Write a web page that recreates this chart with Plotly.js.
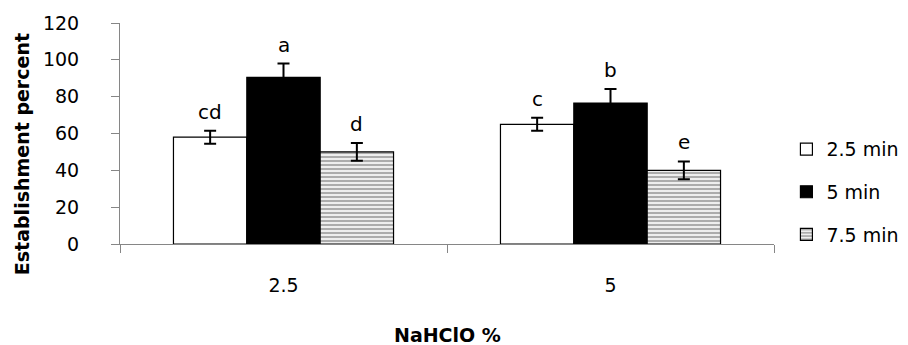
<!DOCTYPE html>
<html>
<head>
<meta charset="utf-8">
<script src="https://cdn.plot.ly/plotly-3.0.1.min.js"></script>
<style>html,body{margin:0;padding:0;background:#fff;}#chart{width:908px;height:345px;}</style>
</head>
<body>
<div id="chart"></div>
<script>
// ---- data ----
var categories = ['2.5', '5'];
var seriesNames = ['2.5 min', '5 min', '7.5 min'];
var values_25min = [58, 65];
var values_5min = [90.5, 76.5];
var values_75min = [50, 40];
var errors_25min = [3.5, 3.5];
var errors_5min = [7.5, 7.7];
var errors_75min = [4.8, 4.8];
var letters_25min = ['cd', 'c'];
var letters_5min = ['a', 'b'];
var letters_75min = ['d', 'e'];
var yTicks = [0, 20, 40, 60, 80, 100, 120];

var FONT = 'DejaVu Sans';
var AXC = '#868686';
var bargap = 0.327;

var vals = [values_25min, values_5min, values_75min];
var errs = [errors_25min, errors_5min, errors_75min];
var letters = [letters_25min, letters_5min, letters_75min];

var styles = [
  {color: '#ffffff', pattern: {shape: ''}},
  {color: '#000000', pattern: {shape: ''}},
  {color: '#ffffff', pattern: {shape: '-', fgcolor: '#5a5a5a', bgcolor: '#ffffff', size: 4, solidity: 0.6, fillmode: 'overlay'}}
];

var traces = seriesNames.map(function (name, j) {
  return {
    type: 'bar',
    name: name,
    x: categories,
    y: vals[j],
    legendgroup: 'g' + j,
    marker: {color: styles[j].color, pattern: styles[j].pattern, line: {color: '#000000', width: 1.2}},
    error_y: {type: 'data', array: errs[j], visible: true, color: '#000000', thickness: 2, width: 6}
  };
});

var barW = (1 - bargap) / seriesNames.length;
var annotations = [];
seriesNames.forEach(function (name, j) {
  categories.forEach(function (c, i) {
    annotations.push({
      xref: 'x', yref: 'y',
      x: i + (j - (seriesNames.length - 1) / 2) * barW,
      y: vals[j][i] + errs[j][i],
      text: letters[j][i],
      showarrow: false,
      yanchor: 'bottom',
      yshift: 5,
      font: {family: FONT, size: 20, color: '#000000'}
    });
  });
});
annotations.push({
  xref: 'paper', yref: 'paper', x: -0.15, y: 0.406,
  text: '<b>Establishment percent</b>', textangle: -90, showarrow: false,
  xanchor: 'center', yanchor: 'middle',
  font: {family: FONT, size: 19, color: '#000000'}
});
annotations.push({
  xref: 'paper', yref: 'paper', x: 0.5, y: -0.41,
  text: '<b>NaHClO %</b>', showarrow: false,
  xanchor: 'center', yanchor: 'middle',
  font: {family: FONT, size: 19, color: '#000000'}
});

var layout = {
  width: 908, height: 345,
  margin: {l: 120, r: 134, t: 23, b: 101, pad: 0, autoexpand: false},
  paper_bgcolor: '#ffffff', plot_bgcolor: '#ffffff',
  barmode: 'group', bargap: bargap, bargroupgap: 0,
  font: {family: FONT, size: 19, color: '#000000'},
  xaxis: {
    type: 'category', tickson: 'boundaries', ticks: 'outside', ticklen: 8, tickwidth: 1,
    tickcolor: AXC, showline: true, linecolor: AXC, linewidth: 1, showgrid: false,
    ticklabelstandoff: 24, tickfont: {family: FONT, size: 19, color: '#000000'}
  },
  yaxis: {
    range: [0, 120], tickvals: yTicks, ticks: 'outside', ticklen: 8, tickwidth: 1,
    tickcolor: AXC, showline: true, linecolor: AXC, linewidth: 1, showgrid: false, zeroline: false,
    ticklabelstandoff: 28, tickfont: {family: FONT, size: 19, color: '#000000'}
  },
  legend: {
    x: 1.019, xanchor: 'left', y: 0.515, yanchor: 'top',
    traceorder: 'grouped', tracegroupgap: 15,
    font: {family: FONT, size: 19, color: '#000000'},
    bgcolor: 'rgba(0,0,0,0)'
  },
  annotations: annotations,
  showlegend: true
};

Plotly.newPlot('chart', traces, layout, {displayModeBar: false, staticPlot: true});
</script>
</body>
</html>
